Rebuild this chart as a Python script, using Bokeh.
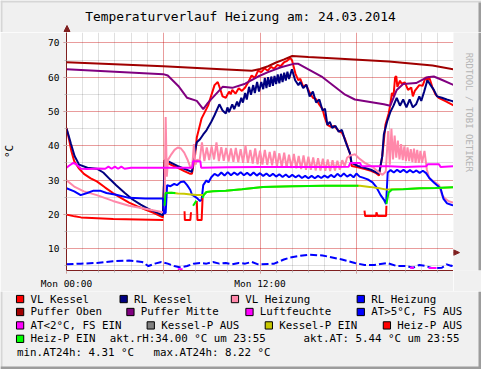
import numpy as np
from bokeh.plotting import figure
from bokeh.layouts import column, row
from bokeh.models import SingleIntervalTicker, Range1d
from bokeh.core.properties import value
from bokeh.embed import file_html
from bokeh.resources import INLINE

NaN = float("nan")

# ---------------- data (hours since Mon 00:00, value in °C / %) ----------------
vl_kessel = [(0, 45.2), (0.15, 42.0), (0.3, 38.5), (0.48, 35.5), (0.75, 33.5), (1.08, 31.8), (1.5, 30.5),
             (1.88, 29.6), (2.4, 27.8), (2.88, 26.2), (3.4, 24.7), (3.88, 23.4), (4.4, 22.3), (4.88, 21.4),
             (5.4, 20.4), (5.98, 19.1), (6.08, 35.8), (6.28, 34.9), (6.88, 33.6), (7.3, 32.6), (7.68, 31.8),
             (7.78, 31.8), (7.98, 37.5), (8.08, 42.4), (8.38, 48.0), (8.78, 51.7), (9.0, 55.0), (9.18, 57.7),
             (9.38, 58.6), (9.5, 57.0), (9.68, 54.4), (9.88, 54.0), (10.08, 55.8), (10.18, 55.0), (10.28, 56.3),
             (10.48, 55.2), (10.68, 56.8), (10.88, 56.0), (11.08, 57.0), (11.28, 58.6), (11.48, 60.5),
             (11.68, 59.8), (11.88, 61.9), (12.08, 61.5), (12.28, 62.6), (12.48, 61.9), (12.68, 63.0),
             (12.88, 62.5), (13.08, 63.6), (13.28, 63.2), (13.48, 64.3), (13.68, 64.8), (13.88, 65.6),
             (13.98, 65.0), (14.08, 63.2), (14.2, 61.0), (14.38, 59.1), (14.5, 59.5), (14.68, 57.2),
             (14.85, 57.8), (15.08, 55.5), (15.28, 54.0), (15.48, 53.6), (15.68, 52.0), (15.88, 50.7),
             (16.0, 48.5), (16.18, 46.1), (16.4, 45.5), (16.6, 45.8), (16.88, 44.3), (17.08, 43.8),
             (17.28, 41.9), (17.45, 39.5), (17.58, 37.8), (17.68, 34.1), (18.08, 33.7), (18.5, 33.2),
             (18.88, 32.7), (19.2, 32.0), (19.38, 31.3), (19.58, 36.9), (19.78, 46.1), (19.98, 49.4),
             (20.08, 52.0), (20.18, 55.4), (20.28, 54.5), (20.38, 60.0), (20.45, 60.3), (20.52, 57.2),
             (20.68, 59.0), (20.78, 58.1), (20.98, 58.5), (21.18, 56.3), (21.38, 57.0), (21.48, 54.4),
             (21.6, 56.0), (21.88, 57.7), (22.08, 57.5), (22.28, 60.0), (22.38, 59.0), (22.48, 60.2),
             (22.68, 57.2), (22.88, 55.0), (23.08, 54.0), (23.5, 53.0), (23.88, 52.1), (24.0, 51.8)]

rl_kessel = [(0, 45.0), (0.1, 43.5), (0.28, 40.5), (0.5, 37.0), (0.78, 34.5), (1.3, 33.6), (1.88, 33.3),
             (2.28, 32.2), (2.7, 30.2), (3.08, 28.5), (3.6, 26.3), (4.08, 24.4), (4.6, 22.8), (5.08, 21.6),
             (5.5, 20.7), (5.98, 19.7), (6.1, 35.8), (6.28, 35.5), (6.88, 34.1), (7.3, 33.3), (7.78, 32.4),
             (7.98, 38.7), (8.08, 41.0), (8.28, 41.9), (8.48, 43.3), (8.68, 44.5), (8.98, 47.0), (9.18, 48.9),
             (9.48, 52.1), (9.68, 50.3), (9.88, 49.4), (9.98, 51.2), (10.08, 49.8), (10.28, 52.1),
             (10.4, 50.7), (10.58, 52.9), (10.68, 51.5), (10.84, 54.0), (10.94, 52.6), (11.08, 55.4),
             (11.18, 53.5), (11.32, 57.2), (11.44, 54.9), (11.58, 57.7), (11.68, 55.4), (11.82, 58.6),
             (11.94, 55.8), (12.08, 58.6), (12.2, 56.5), (12.3, 59.8), (12.4, 56.8), (12.5, 60.0),
             (12.6, 57.2), (12.7, 60.2), (12.8, 57.5), (12.9, 60.4), (13.0, 58.0), (13.1, 60.8),
             (13.2, 58.2), (13.3, 61.0), (13.4, 58.6), (13.5, 61.3), (13.6, 59.0), (13.7, 61.6),
             (13.8, 59.5), (13.98, 62.3), (14.18, 59.1), (14.38, 57.7), (14.5, 58.6), (14.68, 56.8),
             (14.88, 57.8), (15.08, 54.4), (15.28, 55.8), (15.48, 52.6), (15.68, 53.5), (15.88, 50.3),
             (16.03, 50.8), (16.18, 46.1), (16.33, 47.0), (16.48, 45.2), (16.68, 45.8), (16.88, 44.1),
             (17.08, 44.6), (17.28, 41.5), (17.58, 37.8), (17.68, 35.0), (18.08, 34.1), (18.88, 33.0),
             (19.38, 31.8), (19.58, 36.9), (19.68, 43.3), (19.88, 47.0), (20.08, 49.8), (20.28, 51.7),
             (20.48, 54.0), (20.68, 51.7), (20.88, 53.5), (21.08, 51.2), (21.28, 53.5), (21.48, 51.2),
             (21.68, 52.1), (21.88, 54.4), (22.0, 53.1), (22.18, 55.8), (22.38, 59.1), (22.58, 57.7),
             (22.78, 56.3), (22.98, 54.4), (23.28, 54.0), (23.58, 53.5), (23.88, 53.1), (24.0, 52.9)]

vl_heizung = [(0, 29.9), (0.48, 28.1), (1.08, 26.7), (1.88, 25.6), (2.88, 23.9), (3.88, 22.5), (4.88, 21.6),
              (5.98, 20.6), (6.08, 21.0), (6.15, 48.4), (6.22, 31.0), (6.3, 35.9), (6.5, 37.5), (6.7, 38.8),
              (6.9, 39.5), (7.1, 39.2), (7.3, 38.0), (7.5, 36.0), (7.7, 33.5), (7.8, 34.0), (7.9, 40.5),
              (8.0, 34.5), (8.1, 36.0), (8.25, 35.5),
              (8.40, 41.0), (8.55, 35.5), (8.70, 39.5), (8.85, 35.8), (9.00, 39.8), (9.15, 36.0), (9.30, 41.0),
              (9.45, 35.5), (9.60, 39.6), (9.75, 35.6), (9.90, 39.4), (10.05, 35.4), (10.20, 39.2),
              (10.35, 35.3), (10.50, 39.4), (10.65, 35.2), (10.80, 39.0), (10.95, 35.0), (11.10, 40.0),
              (11.25, 35.0), (11.40, 38.8), (11.55, 34.8), (11.70, 39.2), (11.85, 34.6), (12.00, 38.6),
              (12.15, 34.5), (12.30, 38.8), (12.45, 34.4), (12.60, 38.2), (12.75, 34.3), (12.90, 38.5),
              (13.05, 34.0), (13.20, 37.8), (13.35, 33.8), (13.50, 38.0), (13.65, 33.6), (13.80, 37.4),
              (13.95, 33.5), (14.10, 37.6), (14.25, 33.4), (14.40, 37.0), (14.55, 33.2), (14.70, 37.2),
              (14.85, 33.0), (15.00, 36.8), (15.15, 33.0), (15.30, 36.6), (15.45, 32.8), (15.60, 36.4),
              (15.75, 32.8), (15.90, 36.2), (16.05, 32.7), (16.20, 36.0), (16.35, 32.6), (16.50, 35.8),
              (16.65, 32.8), (16.80, 35.6), (16.95, 33.0), (17.10, 35.8), (17.25, 34.0), (17.40, 36.5),
              (17.6, 37.2), (17.9, 37.5), (18.1, 36.5), (18.5, 35.0), (19.0, 33.8), (19.3, 32.5), (19.6, 31.5),
              (19.8, 32.5), (19.95, 44.3), (20.05, 34.5), (20.15, 45.0), (20.25, 36.0), (20.35, 43.0),
              (20.45, 36.5), (20.55, 41.5), (20.65, 36.0), (20.75, 40.5), (20.85, 35.8), (20.95, 39.8),
              (21.05, 35.5), (21.15, 39.5), (21.25, 35.5), (21.35, 39.0), (21.45, 35.2), (21.55, 39.2),
              (21.65, 35.0), (21.75, 38.8), (21.85, 35.0), (21.95, 38.5), (22.05, 35.0), (22.2, 38.5),
              (22.35, 33.0), (22.5, 30.5), (22.7, 29.8), (22.9, 29.2), (23.1, 28.5), (23.3, 25.5),
              (23.5, 24.5), (23.7, 23.8), (24.0, 23.4)]

rl_heizung = [(0, 27.6), (0.48, 26.7), (0.88, 25.6), (1.28, 26.2), (1.68, 26.9), (2.08, 26.9), (2.48, 26.2),
              (3.08, 25.7), (3.88, 24.8), (4.88, 24.6), (5.98, 24.6), (6.05, 20.2), (6.15, 20.4), (6.24, 28.5),
              (6.45, 28.2), (6.68, 28.9), (6.85, 28.5), (7.08, 29.4), (7.28, 29.6), (7.48, 28.5), (7.68, 27.1),
              (7.78, 25.7), (8.08, 24.8), (8.28, 23.9), (8.38, 24.2), (8.48, 28.5), (8.68, 29.9), (8.8, 29.3),
              (8.98, 30.8), (9.18, 31.8), (9.4, 31.2), (9.6, 32.2), (9.8, 31.3), (10.0, 32.3), (10.2, 31.4),
              (10.4, 32.2), (10.6, 31.5), (10.8, 32.3), (11.0, 31.4), (11.2, 32.1), (11.4, 31.3), (11.6, 32.2),
              (11.8, 31.3), (12.0, 32.0), (12.2, 31.2), (12.4, 31.9), (12.6, 31.1), (12.8, 31.8), (13.0, 31.0),
              (13.2, 31.7), (13.4, 30.9), (13.6, 31.6), (13.8, 30.8), (14.0, 31.5), (14.2, 30.8), (14.4, 31.4),
              (14.6, 30.6), (14.8, 31.2), (15.0, 30.5), (15.2, 31.2), (15.4, 30.5), (15.6, 31.2), (15.8, 30.6),
              (16.0, 31.3), (16.2, 30.7), (16.4, 31.5), (16.6, 30.8), (16.8, 31.8), (17.0, 31.0), (17.2, 31.9),
              (17.4, 31.0), (17.6, 31.6), (17.8, 30.8), (17.98, 31.9), (18.18, 31.0), (18.38, 30.7),
              (18.68, 30.2), (18.98, 29.3), (19.22, 27.9), (19.48, 25.6), (19.68, 24.3), (19.82, 23.0),
              (19.92, 32.2), (20.1, 32.9), (20.3, 32.2), (20.5, 33.0), (20.7, 32.3), (20.9, 33.0), (21.1, 32.2),
              (21.3, 32.9), (21.5, 32.2), (21.7, 32.8), (21.9, 32.1), (22.1, 32.7), (22.3, 32.0), (22.5, 30.6),
              (22.8, 29.2), (23.0, 28.4), (23.2, 27.5), (23.38, 24.5), (23.6, 23.2), (23.9, 22.7), (24.0, 22.6)]

puffer_oben = [(0, 64.4), (3, 63.8), (6, 63.2), (9, 62.5), (11.5, 61.9), (12, 62.4), (12.5, 63.2), (13, 64.3),
               (13.5, 65.2), (14.0, 66.2), (15, 65.9), (17, 65.4), (20, 64.6), (22.7, 63.4), (24, 62.3)]

puffer_mitte = [(0, 62.3), (3, 61.6), (6, 60.9), (6.28, 60.5), (6.98, 57.2), (7.48, 54.0), (8.08, 53.1),
                (8.48, 50.7), (8.78, 52.6), (9.68, 57.2), (10.28, 56.9), (11.08, 58.1), (11.88, 60.2),
                (12.5, 61.5), (13.3, 62.9), (14.08, 63.9), (14.38, 63.9), (15.88, 60.0), (17.28, 54.9),
                (17.88, 53.5), (19.68, 52.1), (20.08, 51.7), (20.48, 56.3), (20.88, 58.0), (21.68, 58.3),
                (22.38, 60.0), (22.78, 60.2), (23.3, 59.2), (23.88, 58.0), (24, 57.8)]

luftfeuchte = [(0, 33.6), (0.2, 34.3), (0.42, 35.0), (0.6, 34.6), (0.9, 33.3), (1.3, 33.2), (2.0, 33.4),
               (2.4, 33.3), (2.6, 33.9), (2.8, 33.3), (3.0, 33.9), (3.2, 33.3), (3.4, 33.9), (3.6, 33.3),
               (4.0, 33.6), (5.0, 33.6), (6.0, 33.6), (7.0, 33.6), (7.8, 33.6), (7.85, 35.5), (8.3, 35.5),
               (8.35, 33.6), (10, 33.7), (12, 33.8), (14, 33.8), (16, 33.8), (17.5, 33.9), (17.6, 35.0),
               (18.2, 35.0), (18.3, 34.0), (20, 34.0), (21, 33.8), (22.3, 34.0), (22.4, 34.6), (23.1, 34.6),
               (23.2, 33.8), (24, 34.0)]

at_fs_aus = [(0, 5.4), (0.88, 5.6), (1.88, 5.8), (2.88, 6.3), (3.88, 6.5), (4.68, 6.1), (5.08, 4.9), (5.48, 5.6),
             (5.88, 6.1), (6.28, 5.6), (6.68, 4.9), (7.08, 4.5), (7.48, 4.9), (7.88, 5.6), (8.28, 5.8),
             (8.68, 5.6), (9.08, 6.1), (9.48, 5.6), (9.88, 5.8), (10.28, 5.4), (10.68, 5.8), (11.08, 5.6),
             (11.48, 6.1), (11.88, 5.4), (12.88, 5.6), (13.48, 6.8), (13.88, 7.4), (14.5, 7.9), (15.0, 8.2),
             (15.88, 8.0), (16.48, 7.4), (17.08, 6.8), (17.88, 5.8), (18.48, 5.2), (19.08, 5.2), (19.88, 5.8),
             (20.48, 4.9), (21.08, 4.9), (21.48, 4.4), (21.88, 5.2), (22.28, 4.9), (22.68, 4.3), (23.28, 4.4),
             (23.58, 5.4), (23.88, 4.9), (24, 5.4)]

at_fs_ein = [(6.9, 4.0), (7.2, 4.0), (NaN, NaN), (21.3, 4.4), (21.55, 4.4), (NaN, NaN), (22.45, 4.3), (22.95, 4.3)]

kessel_p_ein = [(6.12, 26.2), (6.5, 26.3), (6.9, 26.1), (7.3, 26.0), (7.7, 25.8), (8.1, 25.6), (8.44, 25.6),
                (8.52, 25.7), (8.68, 26.5), (9.08, 26.7), (9.88, 26.9), (10.88, 27.3), (12.18, 28.0), (14, 28.2),
                (16, 28.3), (18.2, 28.3), (18.8, 28.0), (19.4, 27.6), (19.85, 27.2), (20.2, 27.3), (21, 27.4),
                (22, 27.6), (23, 27.7), (24, 27.9)]

heiz_p_aus = [(0, 19.9), (0.5, 19.4), (0.9, 19.1), (2.9, 18.6), (6.0, 18.3), (NaN, NaN),
              (7.32, 20.9), (7.34, 18.3), (7.68, 18.3), (7.72, 20.6), (NaN, NaN),
              (8.08, 23.9), (8.12, 18.3), (8.38, 18.3), (8.44, 24.8), (NaN, NaN),
              (18.48, 21.1), (18.52, 19.5), (19.2, 19.5), (19.22, 20.6), (19.3, 19.5), (19.82, 19.5), (19.84, 22.5)]

heiz_p_ein = [(6.08, 22.5), (6.14, 26.2), (6.5, 26.3), (6.75, 26.2), (NaN, NaN),
              (7.85, 22.5), (8.06, 24.0), (NaN, NaN),
              (8.44, 24.8), (8.52, 25.7), (8.68, 26.5), (9.08, 26.7), (9.88, 26.9), (10.88, 27.3), (12.18, 28.0),
              (14, 28.2), (16, 28.3), (18.1, 28.3), (NaN, NaN),
              (19.84, 23.0), (19.98, 26.4), (20.18, 27.2), (20.88, 27.3), (21.88, 27.6), (22.88, 27.7), (24, 27.9)]

x_tick_labels = {0: "Mon 00:00", 6: "", 12: "Mon 12:00", 18: "", 24: ""}
title_text = "Temperaturverlauf Heizung am: 24.03.2014"
y_label = "°C"
watermark = "RRDTOOL / TOBI OETIKER"

legend_rows = [
    [("VL Kessel", "#FF0000", 31), ("RL Kessel", "#000080", 138), ("VL Heizung", "#FF88AA", 253), ("RL Heizung", "#0000FF", 383)],
    [("Puffer Oben", "#A00000", 31), ("Puffer Mitte", "#800080", 145), ("Luftfeuchte", "#FF00FF", 268), ("AT>5°C, FS AUS", "#0000FF", 383)],
    [("AT<2°C, FS EIN", "#FF00FF", 31), ("Kessel-P AUS", "#808080", 166), ("Kessel-P EIN", "#C8C800", 288), ("Heiz-P AUS", "#FF0000", 410)],
    [("Heiz-P EIN", "#00FF00", 31)],
]
legend_row_y = [311.5, 325, 339, 353, 367]
info_texts = [("akt.rH:34.00 °C um 23:55", 113, 3), ("akt.AT: 5.44 °C um 23:55", 313, 3),
              ("min.AT24h: 4.31 °C", 17, 4), ("max.AT24h: 8.22 °C", 158, 4)]

# ---------------- layout (reference canvas 497x385 scaled into 481x369) ----------------
W, H = 481, 369
SX, SY = W / 497.0, H / 385.0
TOP_H = 32            # title strip
MAIN_H = 259          # plot + x axis
LEG_H = H - TOP_H - MAIN_H
MAIN_W = 453          # frame right edge
RIGHT_W = W - MAIN_W
FL = 66               # frame left
FRAME_H = 239
MONO = "DejaVu Sans Mono"
AXC = "#7F1F1F"
BG = "#F0F0F0"
LIGHT = "#D6D6D6"
DARK = "#9C9C9C"


def blank(w, h):
    f = figure(width=w, height=h, x_range=Range1d(0, w), y_range=Range1d(h, 0), output_backend="svg",
               toolbar_location=None, x_axis_location=None, y_axis_location=None,
               min_border=0, min_border_left=0, min_border_right=0, min_border_top=0, min_border_bottom=0)
    f.background_fill_color = BG
    f.border_fill_color = BG
    f.outline_line_color = None
    f.xgrid.visible = False
    f.ygrid.visible = False
    return f


# ---- main plot ----
p = figure(width=MAIN_W, height=MAIN_H, x_range=Range1d(0, 24), y_range=Range1d(3.6, 73.05),
           output_backend="svg", toolbar_location=None,
           min_border_left=FL, min_border_right=0, min_border_top=0, min_border_bottom=MAIN_H - FRAME_H)
p.background_fill_color = "white"
p.border_fill_color = BG
p.outline_line_color = None

xt = SingleIntervalTicker(interval=6, num_minor_ticks=6)
yt = SingleIntervalTicker(interval=10, num_minor_ticks=2)
p.xaxis.ticker = xt
p.yaxis.ticker = yt
p.xaxis.major_label_overrides = x_tick_labels
for ax in (p.xaxis[0], p.yaxis[0]):
    ax.axis_line_color = AXC
    ax.major_tick_line_color = "#E08080"
    ax.minor_tick_line_color = "#BBBBBB"
    ax.major_tick_in = 0
    ax.minor_tick_in = 0
    ax.major_tick_out = 3
    ax.minor_tick_out = 2
    ax.major_label_text_font = MONO
    ax.major_label_text_font_size = "9.5px"
    ax.major_label_text_color = "black"
p.yaxis.major_label_standoff = 4
p.xaxis.major_label_standoff = 4
p.yaxis.axis_label = y_label
p.yaxis.axis_label_text_font = MONO
p.yaxis.axis_label_text_font_size = "11px"
p.yaxis.axis_label_text_font_style = "normal"
p.yaxis.axis_label_text_color = "black"
p.yaxis.axis_label_standoff = 29
for g in (p.xgrid[0], p.ygrid[0]):
    g.grid_line_color = "#FF0000"
    g.grid_line_alpha = 0.3
    g.minor_grid_line_color = "#000000"
    g.minor_grid_line_alpha = 0.12


def draw(pairs, color, width=2, dash="solid"):
    arr = np.array(pairs, dtype=float)
    p.line(arr[:, 0], arr[:, 1], line_color=color, line_width=width, line_dash=dash)


draw(vl_kessel, "#FF0000")
draw(rl_kessel, "#000080")
draw(vl_heizung, "#FF88AA")
draw(rl_heizung, "#0000FF")
draw(puffer_oben, "#A00000")
draw(puffer_mitte, "#800080")
draw(luftfeuchte, "#FF00FF")
draw(at_fs_aus, "#0000FF", dash="7 3")
draw(at_fs_ein, "#FF00FF")
draw(kessel_p_ein, "#C8C800")
draw(heiz_p_aus, "#FF0000")
draw(heiz_p_ein, "#00EE00")

# ---- title strip ----
top = blank(W, TOP_H)
top.text(x=[248 * SX], y=[17 * SY], text=[title_text], text_font=value(MONO), text_font_size="12.9px",
         text_align="center", text_baseline="middle", text_color="black")
top.quad(left=[0], right=[W], top=[0], bottom=[2], fill_color=LIGHT, line_color=None)
top.quad(left=[0], right=[2], top=[0], bottom=[TOP_H], fill_color=LIGHT, line_color=None)
top.quad(left=[W - 3], right=[W], top=[2], bottom=[TOP_H], fill_color=DARK, line_color=None)
# y-axis arrow head
top.segment(x0=[FL + 0.5], y0=[27], x1=[FL + 0.5], y1=[TOP_H], line_color=AXC, line_width=1)
top.patch(x=[FL + 0.5, FL - 2.5, FL + 3.5], y=[25, 31, 31], fill_color=AXC, line_color=AXC)

# ---- right strip (watermark) ----
right = blank(RIGHT_W, MAIN_H)
right.text(x=[484 * SX - MAIN_W], y=[124 * SY - TOP_H], text=[watermark], text_font=value(MONO),
           text_font_size="9px", text_align="center", text_baseline="middle", text_color="#B4B4B4",
           angle=-np.pi / 2)
right.quad(left=[RIGHT_W - 3], right=[RIGHT_W], top=[0], bottom=[MAIN_H], fill_color=DARK, line_color=None)
# x-axis arrow head
right.segment(x0=[0], y0=[FRAME_H + 0.5], x1=[2], y1=[FRAME_H + 0.5], line_color=AXC, line_width=1)
right.patch(x=[6, 0, 0], y=[FRAME_H + 0.5, FRAME_H - 2.5, FRAME_H + 3.5], fill_color=AXC, line_color=AXC)

# ---- legend strip ----
leg = blank(W, LEG_H)
y0 = TOP_H + MAIN_H
bl, br, bt, bb, bc, tx_, ty_, tt = [], [], [], [], [], [], [], []
for items, ry in zip(legend_rows, legend_row_y):
    for text, color, tx in items:
        bl.append((tx - 14.5) * SX)
        br.append((tx - 7) * SX)
        bt.append((ry - 3.8) * SY - y0)
        bb.append((ry + 3.8) * SY - y0)
        bc.append(color)
        tx_.append(tx * SX)
        ty_.append(ry * SY - y0)
        tt.append(text)
for text, tx, ri in info_texts:
    tx_.append(tx * SX)
    ty_.append(legend_row_y[ri] * SY - y0)
    tt.append(text)
leg.quad(left=bl, right=br, top=bt, bottom=bb, fill_color=bc, line_color="black", line_width=1)
leg.text(x=tx_, y=ty_, text=tt, text_font=value(MONO), text_font_size="10.8px",
         text_align="left", text_baseline="middle", text_color="black")
leg.quad(left=[0], right=[2], top=[0], bottom=[LEG_H], fill_color=LIGHT, line_color=None)
leg.quad(left=[W - 3], right=[W], top=[0], bottom=[LEG_H], fill_color=DARK, line_color=None)
leg.quad(left=[0], right=[W], top=[LEG_H - 3], bottom=[LEG_H], fill_color=DARK, line_color=None)

layout = column(top, row(p, right), leg)
open("out.html", "w").write(file_html(layout, INLINE))
